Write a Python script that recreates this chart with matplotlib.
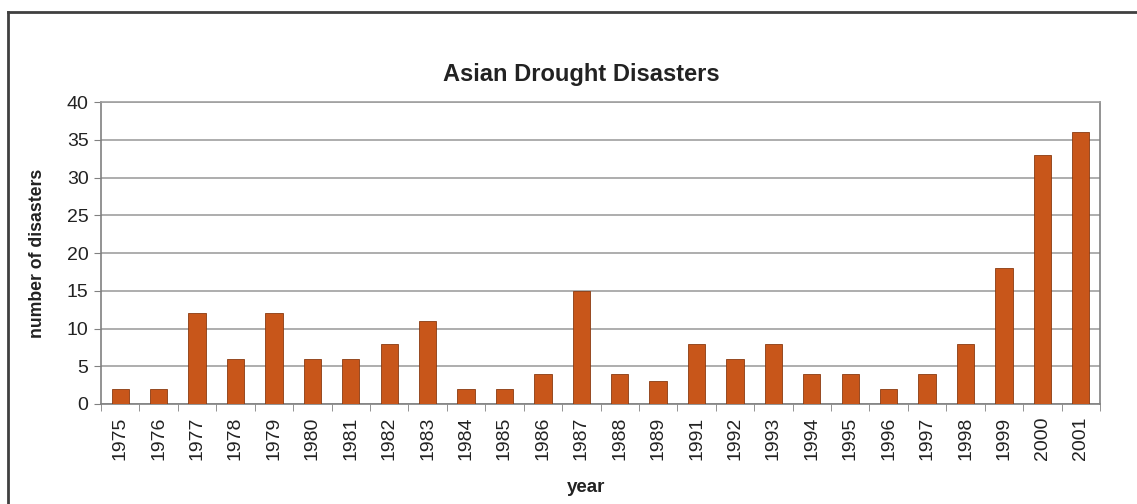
import matplotlib
matplotlib.use("Agg")
import matplotlib.pyplot as plt
from matplotlib.lines import Line2D

years = ["1975","1976","1977","1978","1979","1980","1981","1982","1983","1984","1985","1986","1987","1988","1989",
         "1991","1992","1993","1994","1995","1996","1997","1998","1999","2000","2001"]
disasters = [2,2,12,6,12,6,6,8,11,2,2,4,15,4,3,8,6,8,4,4,2,4,8,18,33,36]
yticks = [0,5,10,15,20,25,30,35,40]

plt.rcParams['font.family'] = ['Liberation Sans', 'DejaVu Sans']

fig = plt.figure(figsize=(11.37, 5.04), dpi=100)
ax = fig.add_axes([101/1137, 1-404/504, (1100-101)/1137, (404-102)/504])

x = list(range(len(years)))
ax.bar(x, disasters, width=0.45, color='#C8561A', edgecolor='#8a3a10', linewidth=0.6, zorder=3)
ax.set_xlim(-0.5, len(years)-0.5)
ax.set_ylim(0, 40)
ax.set_yticks(yticks)
ax.set_yticklabels([str(v) for v in yticks], fontsize=14, color='#222222')
ax.yaxis.grid(True, color='#a0a0a0', linewidth=1.2, zorder=0)
ax.set_xticks(x)
ax.set_xticklabels(years, rotation=90, fontsize=14, color='#222222')
ax.tick_params(axis='x', length=0, pad=9)
ax.set_xticks([i-0.5 for i in range(len(years)+1)], minor=True)
ax.tick_params(axis='x', which='minor', length=5, color='#808080', direction='out')
ax.tick_params(axis='y', length=5, color='#808080', direction='out', pad=4)
for s in ax.spines.values():
    s.set_color('#808080')
    s.set_linewidth(1.2)
ax.spines['top'].set_color('#a0a0a0')

fig.text(581/1137, 1-75/504, "Asian Drought Disasters", fontsize=17, fontweight='bold',
         ha='center', va='center', color='#222222')
fig.text(38/1137, 1-253/504, "number of disasters", fontsize=12.7, fontweight='bold',
         rotation=90, ha='center', va='center', color='#222222')
fig.text(586/1137, 1-487/504, "year", fontsize=13.5, fontweight='bold',
         ha='center', va='center', color='#222222')

fig.add_artist(Line2D([8/1137, 1], [1-12/504, 1-12/504], color='#404040', linewidth=2, transform=fig.transFigure))
fig.add_artist(Line2D([8/1137, 8/1137], [0, 1-12/504], color='#404040', linewidth=2, transform=fig.transFigure))

fig.savefig("out.png", dpi=100)
